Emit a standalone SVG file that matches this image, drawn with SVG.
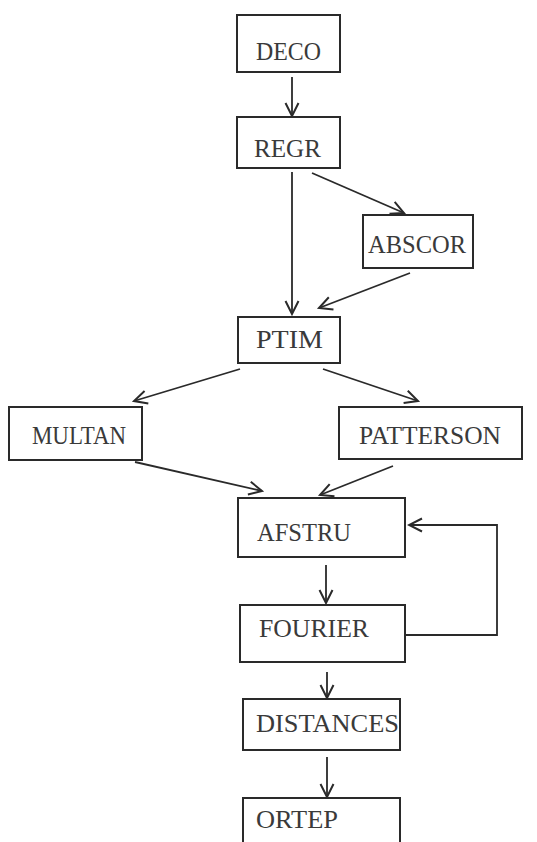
<svg xmlns="http://www.w3.org/2000/svg" width="537" height="842" viewBox="0 0 537 842">
<defs>
<style>
.box{fill:none;stroke:#2a2a2a;stroke-width:2}
.lbl{font-family:"Liberation Serif","DejaVu Serif",serif;font-size:25px;fill:#3a3a3a}
.con{fill:none;stroke:#2a2a2a;stroke-width:1.8;marker-end:url(#arr)}
</style>
<marker id="arr" markerUnits="userSpaceOnUse" markerWidth="16" markerHeight="16" viewBox="0 0 16 16" refX="14" refY="8" orient="auto">
<path d="M1,1.5 L14,8 L1,14.5" fill="none" stroke="#2a2a2a" stroke-width="2"/>
</marker>
</defs>
<rect width="537" height="842" fill="#ffffff"/>
<g id="connectors">
<line class="con" x1="292" y1="77" x2="292" y2="116"/>
<line class="con" x1="292" y1="172" x2="292" y2="314"/>
<line class="con" x1="312" y1="173" x2="404" y2="213"/>
<line class="con" x1="410" y1="273" x2="319" y2="308"/>
<line class="con" x1="240" y1="369" x2="134" y2="401"/>
<line class="con" x1="323" y1="369" x2="418" y2="401"/>
<line class="con" x1="135" y1="462" x2="262" y2="491"/>
<line class="con" x1="393" y1="466" x2="320" y2="495"/>
<line class="con" x1="326" y1="565" x2="326" y2="603"/>
<polyline class="con" points="405,635 497,635 497,525 409,525"/>
<line class="con" x1="327" y1="672" x2="327" y2="698"/>
<line class="con" x1="327" y1="757" x2="327" y2="797"/>
</g>
<g id="DECO"><rect class="box" x="237" y="15" width="103" height="57"/><text class="lbl" x="256" y="60" textLength="65" lengthAdjust="spacingAndGlyphs">DECO</text></g>
<g id="REGR"><rect class="box" x="237" y="117" width="103" height="51"/><text class="lbl" x="254" y="157" textLength="67" lengthAdjust="spacingAndGlyphs">REGR</text></g>
<g id="ABSCOR"><rect class="box" x="363" y="215" width="110" height="53"/><text class="lbl" x="368" y="253" textLength="98" lengthAdjust="spacingAndGlyphs">ABSCOR</text></g>
<g id="PTIM"><rect class="box" x="238" y="317" width="102" height="46"/><text class="lbl" x="256" y="348" textLength="67" lengthAdjust="spacingAndGlyphs">PTIM</text></g>
<g id="MULTAN"><rect class="box" x="9" y="407" width="133" height="53"/><text class="lbl" x="32" y="444" textLength="94" lengthAdjust="spacingAndGlyphs">MULTAN</text></g>
<g id="PATTERSON"><rect class="box" x="339" y="407" width="183" height="52"/><text class="lbl" x="359" y="444" textLength="142" lengthAdjust="spacingAndGlyphs">PATTERSON</text></g>
<g id="AFSTRU"><rect class="box" x="238" y="498" width="167" height="59"/><text class="lbl" x="257" y="541" textLength="94" lengthAdjust="spacingAndGlyphs">AFSTRU</text></g>
<g id="FOURIER"><rect class="box" x="240" y="605" width="165" height="57"/><text class="lbl" x="259" y="637" textLength="110" lengthAdjust="spacingAndGlyphs">FOURIER</text></g>
<g id="DISTANCES"><rect class="box" x="243" y="699" width="157" height="51"/><text class="lbl" x="256" y="732" textLength="143" lengthAdjust="spacingAndGlyphs">DISTANCES</text></g>
<g id="ORTEP"><path class="box" d="M243,845 L243,798 L400,798 L400,845"/><text class="lbl" x="256" y="828" textLength="82" lengthAdjust="spacingAndGlyphs">ORTEP</text></g>
</svg>
